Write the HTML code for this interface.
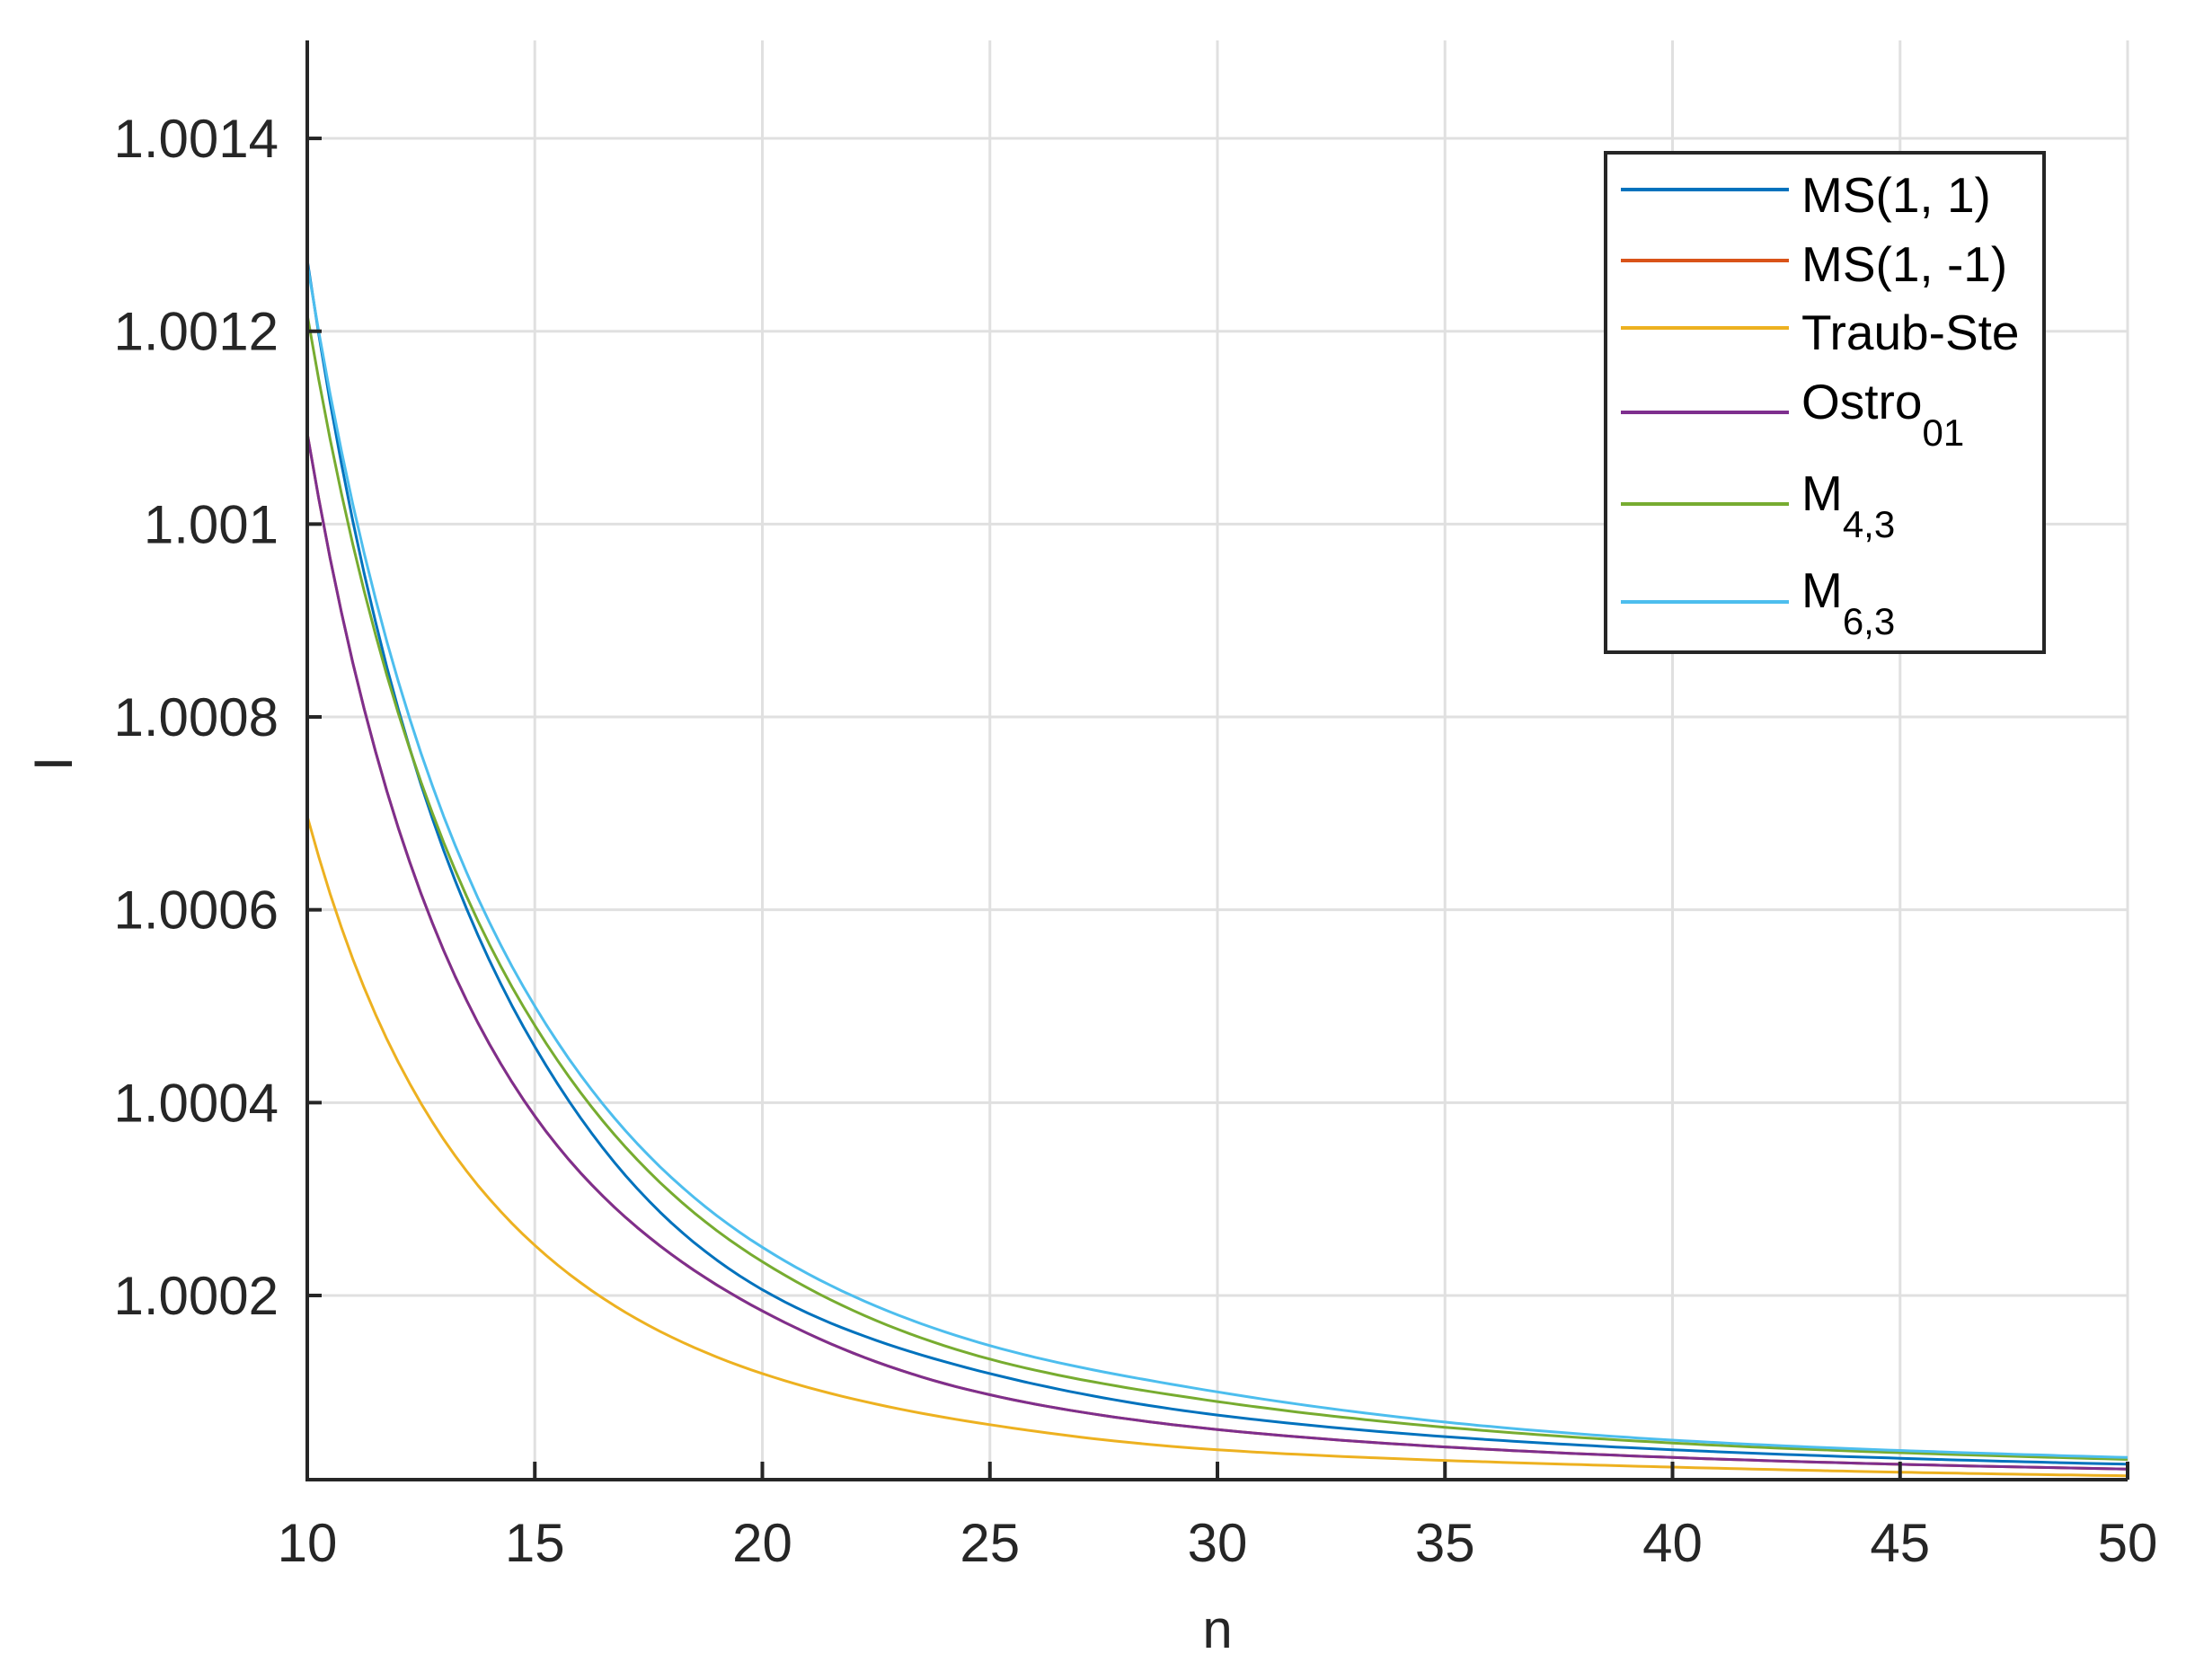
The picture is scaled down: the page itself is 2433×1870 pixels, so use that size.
<!DOCTYPE html>
<html><head><meta charset="utf-8"><style>
html,body{margin:0;padding:0;background:#fff;}
svg{display:block;font-family:"Liberation Sans",Arial,sans-serif;}
</style></head><body>
<svg id="s" width="2433" height="1870" viewBox="0 0 2433 1870" xmlns="http://www.w3.org/2000/svg">
<rect width="2433" height="1870" fill="#fff"/>
<g id="grid" stroke="#e0e0e0" stroke-width="3"></g>
<g id="curves" fill="none" stroke-width="3" stroke-linejoin="round"></g>
<g stroke="#262626" stroke-width="4">
<line x1="342" y1="45" x2="342" y2="1649"/>
<line x1="340" y1="1647" x2="2368" y2="1647"/>
</g>
<g id="ticks" stroke="#262626" stroke-width="4"></g>
<g id="labels" fill="#262626" font-size="60"></g>
<text x="0" y="0" font-size="60" fill="#262626" text-anchor="middle" transform="translate(80,850) rotate(-90)">I</text>
<text x="1355" y="1834" font-size="60" fill="#262626" text-anchor="middle">n</text>
<g transform="translate(-9,0)">
<rect x="1796" y="170" width="488" height="556" fill="#fff" stroke="#262626" stroke-width="4"/>
<g stroke-width="4">
<line x1="1813" y1="211" x2="2000" y2="211" stroke="#0072BD"/>
<line x1="1813" y1="290" x2="2000" y2="290" stroke="#D95319"/>
<line x1="1813" y1="365" x2="2000" y2="365" stroke="#EDB120"/>
<line x1="1813" y1="459" x2="2000" y2="459" stroke="#7E2F8E"/>
<line x1="1813" y1="561" x2="2000" y2="561" stroke="#77AC30"/>
<line x1="1813" y1="670" x2="2000" y2="670" stroke="#4DBEEE"/>
</g>
<g fill="#000" font-size="55">
<text x="2014" y="236">MS(1, 1)</text>
<text x="2014" y="313">MS(1, -1)</text>
<text x="2014" y="389">Traub-Ste</text>
<text x="2014" y="466">Ostro<tspan font-size="42" dy="30">01</tspan></text>
<text x="2014" y="568">M<tspan font-size="42" dy="30">4,3</tspan></text>
<text x="2014" y="676">M<tspan font-size="42" dy="30">6,3</tspan></text>
</g>
</g>
</svg>
<script>
var NS="http://www.w3.org/2000/svg";
function el(p,t,a,txt){var e=document.createElementNS(NS,t);for(var k in a)e.setAttribute(k,a[k]);if(txt)e.textContent=txt;document.getElementById(p).appendChild(e);}
function X(n){return 342+(n-10)*50.65;}
function Y(e){return 1442-(e-2)*107.33;}
for(var n=15;n<=50;n+=5){el("grid","line",{x1:X(n),y1:45,x2:X(n),y2:1647});}
var yt=[[2,"1.0002"],[4,"1.0004"],[6,"1.0006"],[8,"1.0008"],[10,"1.001"],[12,"1.0012"],[14,"1.0014"]];
yt.forEach(function(t){var y=Y(t[0]);el("grid","line",{x1:342,y1:y,x2:2368,y2:y});
el("ticks","line",{x1:342,y1:y,x2:358,y2:y});
el("labels","text",{x:310,y:y+21,"text-anchor":"end"},t[1]);});
for(var n=10;n<=50;n+=5){if(n>10)el("ticks","line",{x1:X(n),y1:1647,x2:X(n),y2:1627});
el("labels","text",{x:X(n),y:1738,"text-anchor":"middle"},String(n));}
var ns=[10,15,20,25,30,40,50];
var S=[
["#D95319",[10.94,3.86,1.84,0.97,0.61,0.32,0.2]],
["#EDB120",[6.97,2.52,1.19,0.66,0.40,0.22,0.13]],
["#0072BD",[12.74,4.58,2.06,1.19,0.76,0.40,0.25]],
["#7E2F8E",[10.94,3.86,1.84,0.97,0.61,0.32,0.2]],
["#77AC30",[12.17,4.8,2.35,1.34,0.9,0.47,0.3]],
["#4DBEEE",[12.7,5.0,2.5,1.48,1.0,0.5,0.32]]];
function interp(vals,n){var lx=ns.map(Math.log),ly=vals.map(Math.log),x=Math.log(n);
var i=0;while(i<lx.length-2&&x>lx[i+1])i++;
var x0=lx[i],x1=lx[i+1],y0=ly[i],y1=ly[i+1];
function sl(j){if(j<=0)return (ly[1]-ly[0])/(lx[1]-lx[0]);if(j>=lx.length-1)return (ly[j]-ly[j-1])/(lx[j]-lx[j-1]);return (ly[j+1]-ly[j-1])/(lx[j+1]-lx[j-1]);}
var h=x1-x0,t=(x-x0)/h,m0=sl(i)*h,m1=sl(i+1)*h;
var t2=t*t,t3=t2*t;
return Math.exp((2*t3-3*t2+1)*y0+(t3-2*t2+t)*m0+(-2*t3+3*t2)*y1+(t3-t2)*m1);}
S.forEach(function(s){var d="";for(var n=10;n<=50.001;n+=0.25){var e=interp(s[1],n);d+=(d?"L":"M")+X(n).toFixed(1)+" "+Y(e).toFixed(1);}
el("curves","path",{d:d,stroke:s[0]});});
</script>
</body></html>
